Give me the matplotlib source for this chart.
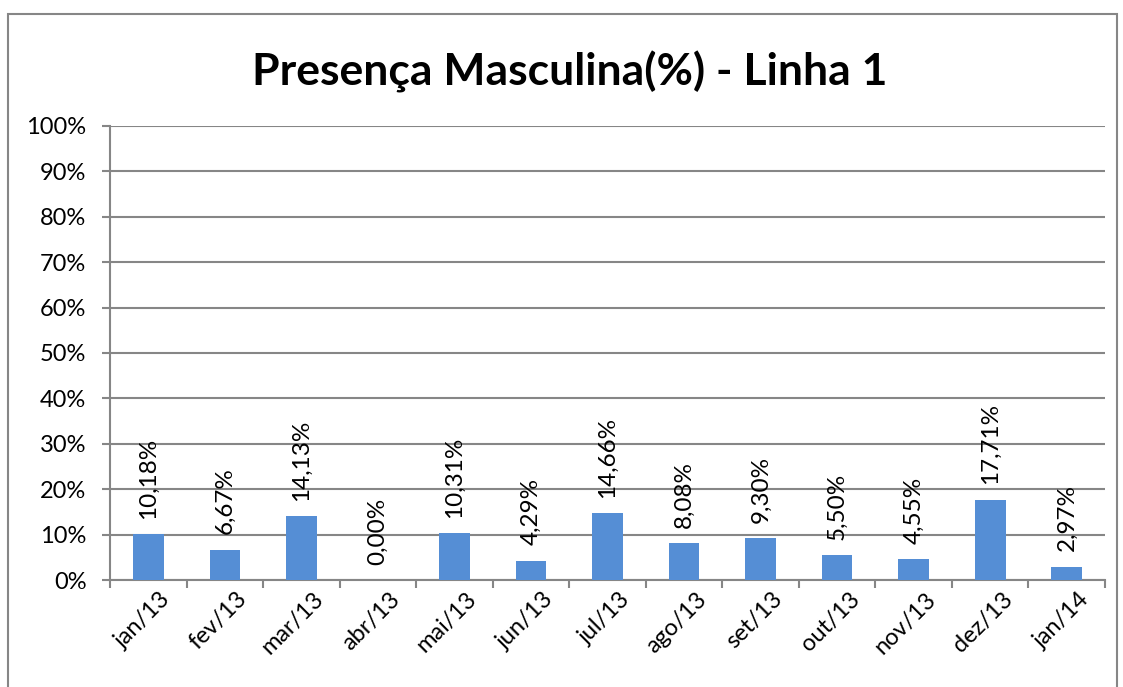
import matplotlib.pyplot as plt
import numpy as np
from matplotlib.patches import Rectangle
from matplotlib.ticker import FuncFormatter, MultipleLocator

months = ['jan/13', 'fev/13', 'mar/13', 'abr/13', 'mai/13', 'jun/13', 'jul/13',
          'ago/13', 'set/13', 'out/13', 'nov/13', 'dez/13', 'jan/14']
presenca = [10.18, 6.67, 14.13, 0.00, 10.31, 4.29, 14.66,
            8.08, 9.30, 5.50, 4.55, 17.71, 2.97]

bar_color = '#558ED5'
grid_color = '#868686'

plt.rcParams['font.family'] = ['Lato', 'DejaVu Sans']

fig = plt.figure(figsize=(11.23, 6.87), dpi=100)
ax = fig.add_axes([0.098, 0.1557, 0.886, 0.661])

# chart frame around everything
fig.patches.append(Rectangle((8 / 1123, -0.05), 1109 / 1123, 1 - 14 / 687 + 0.05,
                             transform=fig.transFigure, fill=False,
                             edgecolor=grid_color, linewidth=1.5))

x = np.arange(len(months))
ax.bar(x, presenca, width=0.4, color=bar_color, zorder=3)

for xi, v in zip(x, presenca):
    ax.annotate(f'{v:.2f}%'.replace('.', ','), (xi, v), xytext=(0, 11),
                textcoords='offset points', rotation=90, ha='center', va='bottom',
                fontsize=17.5, zorder=4)

ax.set_xlim(-0.5, len(months) - 0.5)
ax.set_ylim(0, 100)
ax.yaxis.set_major_locator(MultipleLocator(10))
ax.yaxis.set_major_formatter(FuncFormatter(lambda v, p: f'{v:.0f}%'))
ax.grid(axis='y', color=grid_color, linewidth=1.5, zorder=0)

ax.set_xticks(x + 0.15)
ax.set_xticklabels(months, rotation=45, ha='right', rotation_mode='anchor', fontsize=17)
ax.set_xticks(np.arange(len(months) + 1) - 0.5, minor=True)
ax.tick_params(axis='x', which='major', length=0, pad=6)
ax.tick_params(axis='x', which='minor', length=6, width=1.5, color=grid_color)
ax.tick_params(axis='y', length=6, width=1.5, color=grid_color, labelsize=17, pad=11)

for side in ['top', 'right']:
    ax.spines[side].set_visible(False)
for side in ['left', 'bottom']:
    ax.spines[side].set_color(grid_color)
    ax.spines[side].set_linewidth(1.5)

fig.text(0.507, 0.896, 'Presença Masculina(%) - Linha 1', ha='center', va='center',
         fontsize=32, fontweight='bold')

fig.savefig('out.png', dpi=100)
